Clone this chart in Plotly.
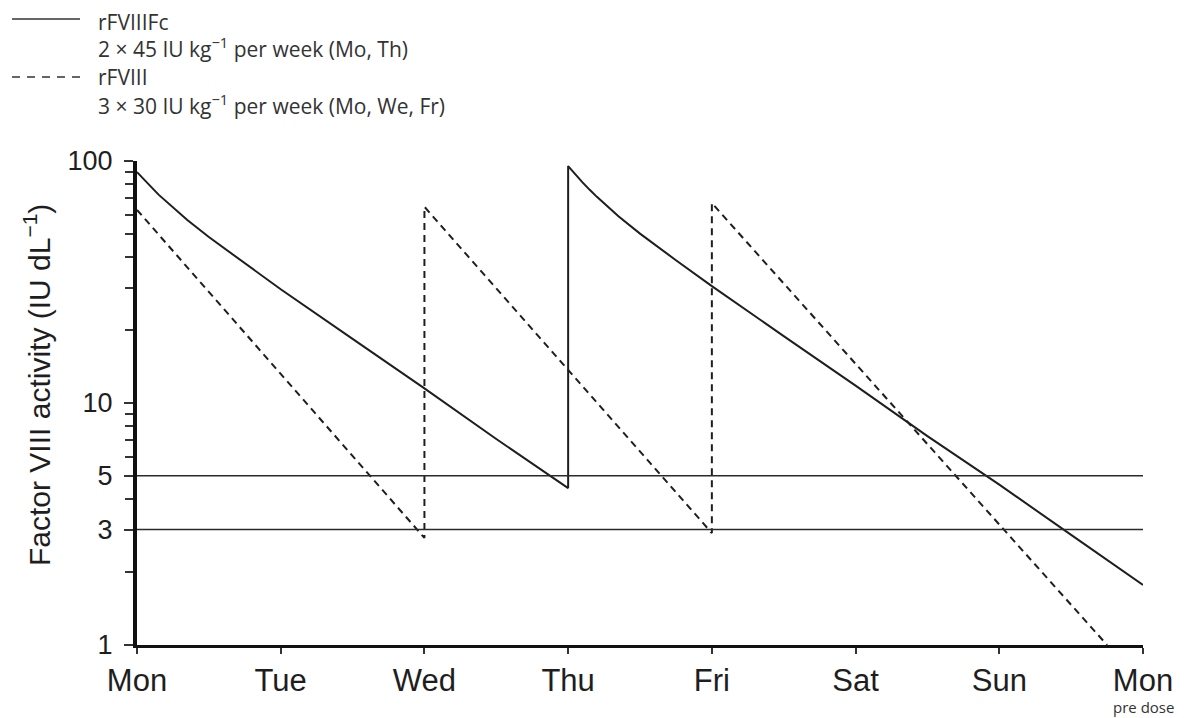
import plotly.graph_objects as go

# ---- data ----
DAYS = ["Mon", "Tue", "Wed", "Thu", "Fri", "Sat", "Sun", "Mon"]
Y_TICKS = [1, 3, 5, 10, 100]
Y_MINOR = [2, 4, 6, 7, 8, 9, 20, 30, 40, 50, 60, 70, 80, 90]
THRESHOLDS = [5, 3]

# rFVIIIFc, 2 x 45 IU/kg (Mo, Th) - time in days from Monday
FC_T = [0, 0.05, 0.1, 0.15, 0.2, 0.35, 0.5, 0.75, 1.0, 1.5, 2.0, 2.5, 3.0,
        3.0, 3.05, 3.1, 3.15, 3.2, 3.35, 3.5, 3.75, 4.0, 4.5, 5.0, 5.5, 6.0, 6.5, 7.0]
FC_V = [90, 83.4, 78, 72.6, 68.5, 57, 48.5, 37.7, 29.5, 18.4, 11.5, 7.1, 4.45,
        95.3, 88, 81.6, 76, 71.1, 59.1, 50.1, 38.9, 30.4, 18.9, 11.8, 7.3, 4.6, 2.85, 1.77]

# rFVIII, 3 x 30 IU/kg (Mo, We, Fr)
F8_T = [0, 2.0, 2.0, 4.0, 4.0, 6.75]
F8_V = [62.8, 2.77, 64.7, 2.9, 67, 1.0]

LEGEND_NAMES = ["rFVIIIFc", "rFVIII"]
LEGEND_DOSES = ["2 × 45 IU kg<sup>−1</sup> per week (Mo, Th)",
                "3 × 30 IU kg<sup>−1</sup> per week (Mo, We, Fr)"]
Y_TITLE = "Factor VIII activity (IU dL<sup>−1</sup>)"
NOTE = "pre dose"

INK = "#1e1e1e"
W, H = 1188, 718
OFF = 8  # page body margin
# plot area in page pixels
PL, PR, PT, PB = 137, 1143, 161, 645


def px(x):
    return (x - PL) / (PR - PL)


def py(y):
    return (PB - y) / (PB - PT)


fig = go.Figure()

for th in THRESHOLDS:
    fig.add_hline(y=th, line=dict(color="#2a2a2a", width=1.5))

fig.add_trace(go.Scatter(x=FC_T, y=FC_V, mode="lines",
                         line=dict(color=INK, width=2), showlegend=False))
fig.add_trace(go.Scatter(x=F8_T, y=F8_V, mode="lines",
                         line=dict(color=INK, width=2, dash="7px,5px"), showlegend=False))

# custom legend
leg_font = dict(family="Open Sans", size=21, color="#333333")
line_rows = [19, 77]
text_rows = [[22, 48], [77, 104]]
dashes = ["solid", "8px,7px"]
for i in range(2):
    fig.add_shape(type="line", xref="paper", yref="paper",
                  x0=px(12), x1=px(80), y0=py(line_rows[i]), y1=py(line_rows[i]),
                  line=dict(color="#333333", width=1.5, dash=dashes[i]))
    fig.add_annotation(xref="paper", yref="paper", x=px(97), y=py(text_rows[i][0]),
                       text=LEGEND_NAMES[i], showarrow=False, xanchor="left",
                       yanchor="middle", font=leg_font, borderpad=0)
    fig.add_annotation(xref="paper", yref="paper", x=px(97), y=py(text_rows[i][1]),
                       text=LEGEND_DOSES[i], showarrow=False, xanchor="left",
                       yanchor="middle", font=leg_font, borderpad=0)

fig.add_annotation(xref="x", yref="paper", x=len(DAYS) - 1, y=py(707),
                   text=NOTE, showarrow=False, xanchor="center", yanchor="middle",
                   font=dict(family="Open Sans", size=15, color="#333333"))

fig.add_annotation(xref="paper", yref="paper", x=px(37), y=py(385),
                   text=Y_TITLE, textangle=-90, showarrow=False,
                   xanchor="center", yanchor="middle",
                   font=dict(family="Liberation Sans", size=30, color=INK))

fig.update_layout(
    width=W, height=H,
    margin=dict(l=PL - OFF, r=W - (PR - OFF), t=PT - OFF, b=H - (PB - OFF),
                autoexpand=False),
    paper_bgcolor="white", plot_bgcolor="white",
    showlegend=False,
    xaxis=dict(
        range=[0, len(DAYS) - 1],
        tickmode="array", tickvals=list(range(len(DAYS))), ticktext=DAYS,
        showgrid=False, zeroline=False,
        showline=True, linecolor="#111111", linewidth=3,
        ticks="outside", ticklen=6, tickwidth=2, tickcolor="#333333",
        tickfont=dict(family="Liberation Sans", size=31, color=INK),
    ),
    yaxis=dict(
        type="log", range=[0, 2],
        tickmode="array", tickvals=Y_TICKS, ticktext=[str(v) for v in Y_TICKS],
        showgrid=False, zeroline=False,
        showline=True, linecolor="#111111", linewidth=4,
        ticks="outside", ticklen=9, tickwidth=1.5, tickcolor="#333333",
        ticklabelstandoff=6,
        tickfont=dict(family="Liberation Sans", size=27, color=INK),
        minor=dict(tickmode="array", tickvals=Y_MINOR, ticks="outside",
                   ticklen=8, tickwidth=1.5, tickcolor="#333333", showgrid=False),
    ),
)

fig.write_html("out.html")
